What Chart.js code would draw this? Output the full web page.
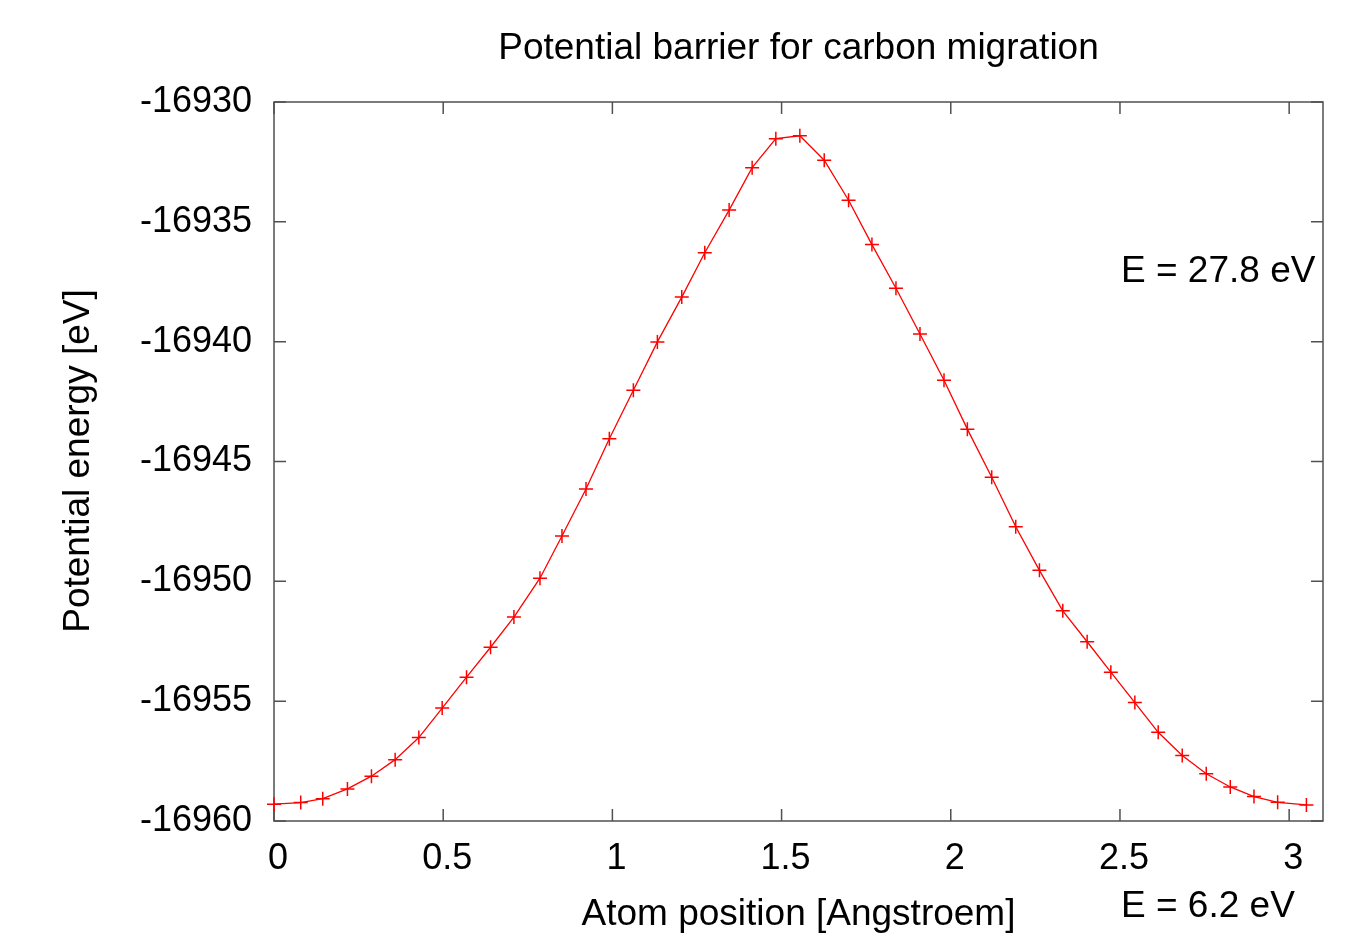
<!DOCTYPE html>
<html lang="en">
<head>
  <meta charset="UTF-8">
  <title>Potential barrier for carbon migration</title>
  <script src="https://cdn.jsdelivr.net/npm/chart.js"></script>
  <style>
    body {
      margin: 0;
      background: #fff;
    }
    canvas {
      display: block;
    }
  </style>
</head>
<body>
  <canvas id="myChart" width="1365" height="938"></canvas>

  <script>
    // atom position along the path [Angstroem]
    const positions = [0.000, 0.079, 0.144, 0.217, 0.288, 0.358, 0.428, 0.497, 0.569, 0.640,
      0.709, 0.786, 0.851, 0.922, 0.991, 1.062, 1.133, 1.205, 1.273, 1.345,
      1.413, 1.483, 1.554, 1.626, 1.698, 1.767, 1.838, 1.909, 1.980, 2.049,
      2.121, 2.192, 2.262, 2.331, 2.403, 2.473, 2.544, 2.613, 2.684, 2.755,
      2.826, 2.896, 2.966, 3.051];
    // potential energy [eV]
    const energies = [-16959.30, -16959.23, -16959.07, -16958.66, -16958.13, -16957.44, -16956.52, -16955.29, -16954.00, -16952.75,
      -16951.49, -16949.87, -16948.11, -16946.15, -16944.05, -16942.03, -16940.01, -16938.14, -16936.29, -16934.51,
      -16932.74, -16931.53, -16931.41, -16932.43, -16934.10, -16935.95, -16937.77, -16939.68, -16941.61, -16943.65,
      -16945.66, -16947.72, -16949.54, -16951.23, -16952.52, -16953.79, -16955.06, -16956.30, -16957.27, -16958.03,
      -16958.58, -16958.98, -16959.22, -16959.33];

    const xTicks = [0, 0.5, 1, 1.5, 2, 2.5, 3];
    const yTicks = [-16960, -16955, -16950, -16945, -16940, -16935, -16930];

    const FONT = '"Liberation Sans", Arial, sans-serif';

    // gnuplot style box with inward ticks on all four sides, plus the labels
    const gnuplotFrame = {
      id: 'gnuplotFrame',
      beforeDatasetsDraw(chart) {
        const { ctx, chartArea: a, scales: { x, y } } = chart;
        ctx.save();
        ctx.strokeStyle = '#505050';
        ctx.lineWidth = 1.5;
        ctx.strokeRect(a.left, a.top, a.right - a.left, a.bottom - a.top);
        ctx.beginPath();
        xTicks.forEach(v => {
          const px = x.getPixelForValue(v);
          ctx.moveTo(px, a.bottom); ctx.lineTo(px, a.bottom - 12);
          ctx.moveTo(px, a.top); ctx.lineTo(px, a.top + 12);
        });
        yTicks.forEach(v => {
          const py = y.getPixelForValue(v);
          ctx.moveTo(a.left, py); ctx.lineTo(a.left + 12, py);
          ctx.moveTo(a.right, py); ctx.lineTo(a.right - 12, py);
        });
        ctx.stroke();
        ctx.restore();
      },
      afterDraw(chart) {
        const { ctx, chartArea: a } = chart;
        const cx = (a.left + a.right) / 2;
        ctx.save();
        ctx.fillStyle = '#000';
        ctx.font = '37px ' + FONT;
        ctx.textBaseline = 'alphabetic';

        ctx.textAlign = 'center';
        ctx.fillText('Potential barrier for carbon migration', cx, 59);
        ctx.fillText('Atom position [Angstroem]', cx, 925);

        ctx.textAlign = 'left';
        ctx.fillText('E = 27.8 eV', 1121, 282);
        ctx.fillText('E = 6.2 eV', 1121, 917);

        ctx.translate(89, 461);
        ctx.rotate(-Math.PI / 2);
        ctx.textAlign = 'center';
        ctx.fillText('Potential energy [eV]', 0, 0);
        ctx.restore();
      }
    };

    const ctx = document.getElementById('myChart').getContext('2d');

    new Chart(ctx, {
      type: 'scatter',
      data: {
        datasets: [{
          data: positions.map((p, i) => ({ x: p, y: energies[i] })),
          showLine: true,
          borderColor: '#ff0000',
          borderWidth: 1.3,
          tension: 0,
          pointStyle: 'cross',
          pointRadius: 7,
          pointBorderColor: '#ff0000',
          pointBorderWidth: 1.5,
          clip: 10
        }]
      },
      options: {
        responsive: false,
        animation: false,
        layout: {
          padding: { left: 0, top: 102, right: 42, bottom: 0 }
        },
        plugins: {
          legend: { display: false },
          tooltip: { enabled: false },
          title: { display: false }
        },
        scales: {
          x: {
            type: 'linear',
            min: 0,
            max: 3.1,
            grid: { display: false, drawTicks: false },
            border: { display: false },
            afterBuildTicks: s => { s.ticks = xTicks.map(v => ({ value: v })); },
            afterFit: s => { s.height = 117; },
            ticks: {
              color: '#000',
              font: { family: FONT, size: 36 },
              padding: 16,
              labelOffset: 4,
              maxRotation: 0,
              callback: v => String(v)
            }
          },
          y: {
            type: 'linear',
            min: -16960,
            max: -16930,
            grid: { display: false, drawTicks: false },
            border: { display: false },
            afterBuildTicks: s => { s.ticks = yTicks.map(v => ({ value: v })); },
            afterFit: s => { s.width = 274; },
            ticks: {
              color: '#000',
              font: { family: FONT, size: 36 },
              padding: 22,
              callback: v => String(v)
            }
          }
        }
      },
      plugins: [gnuplotFrame]
    });
  </script>
</body>
</html>
